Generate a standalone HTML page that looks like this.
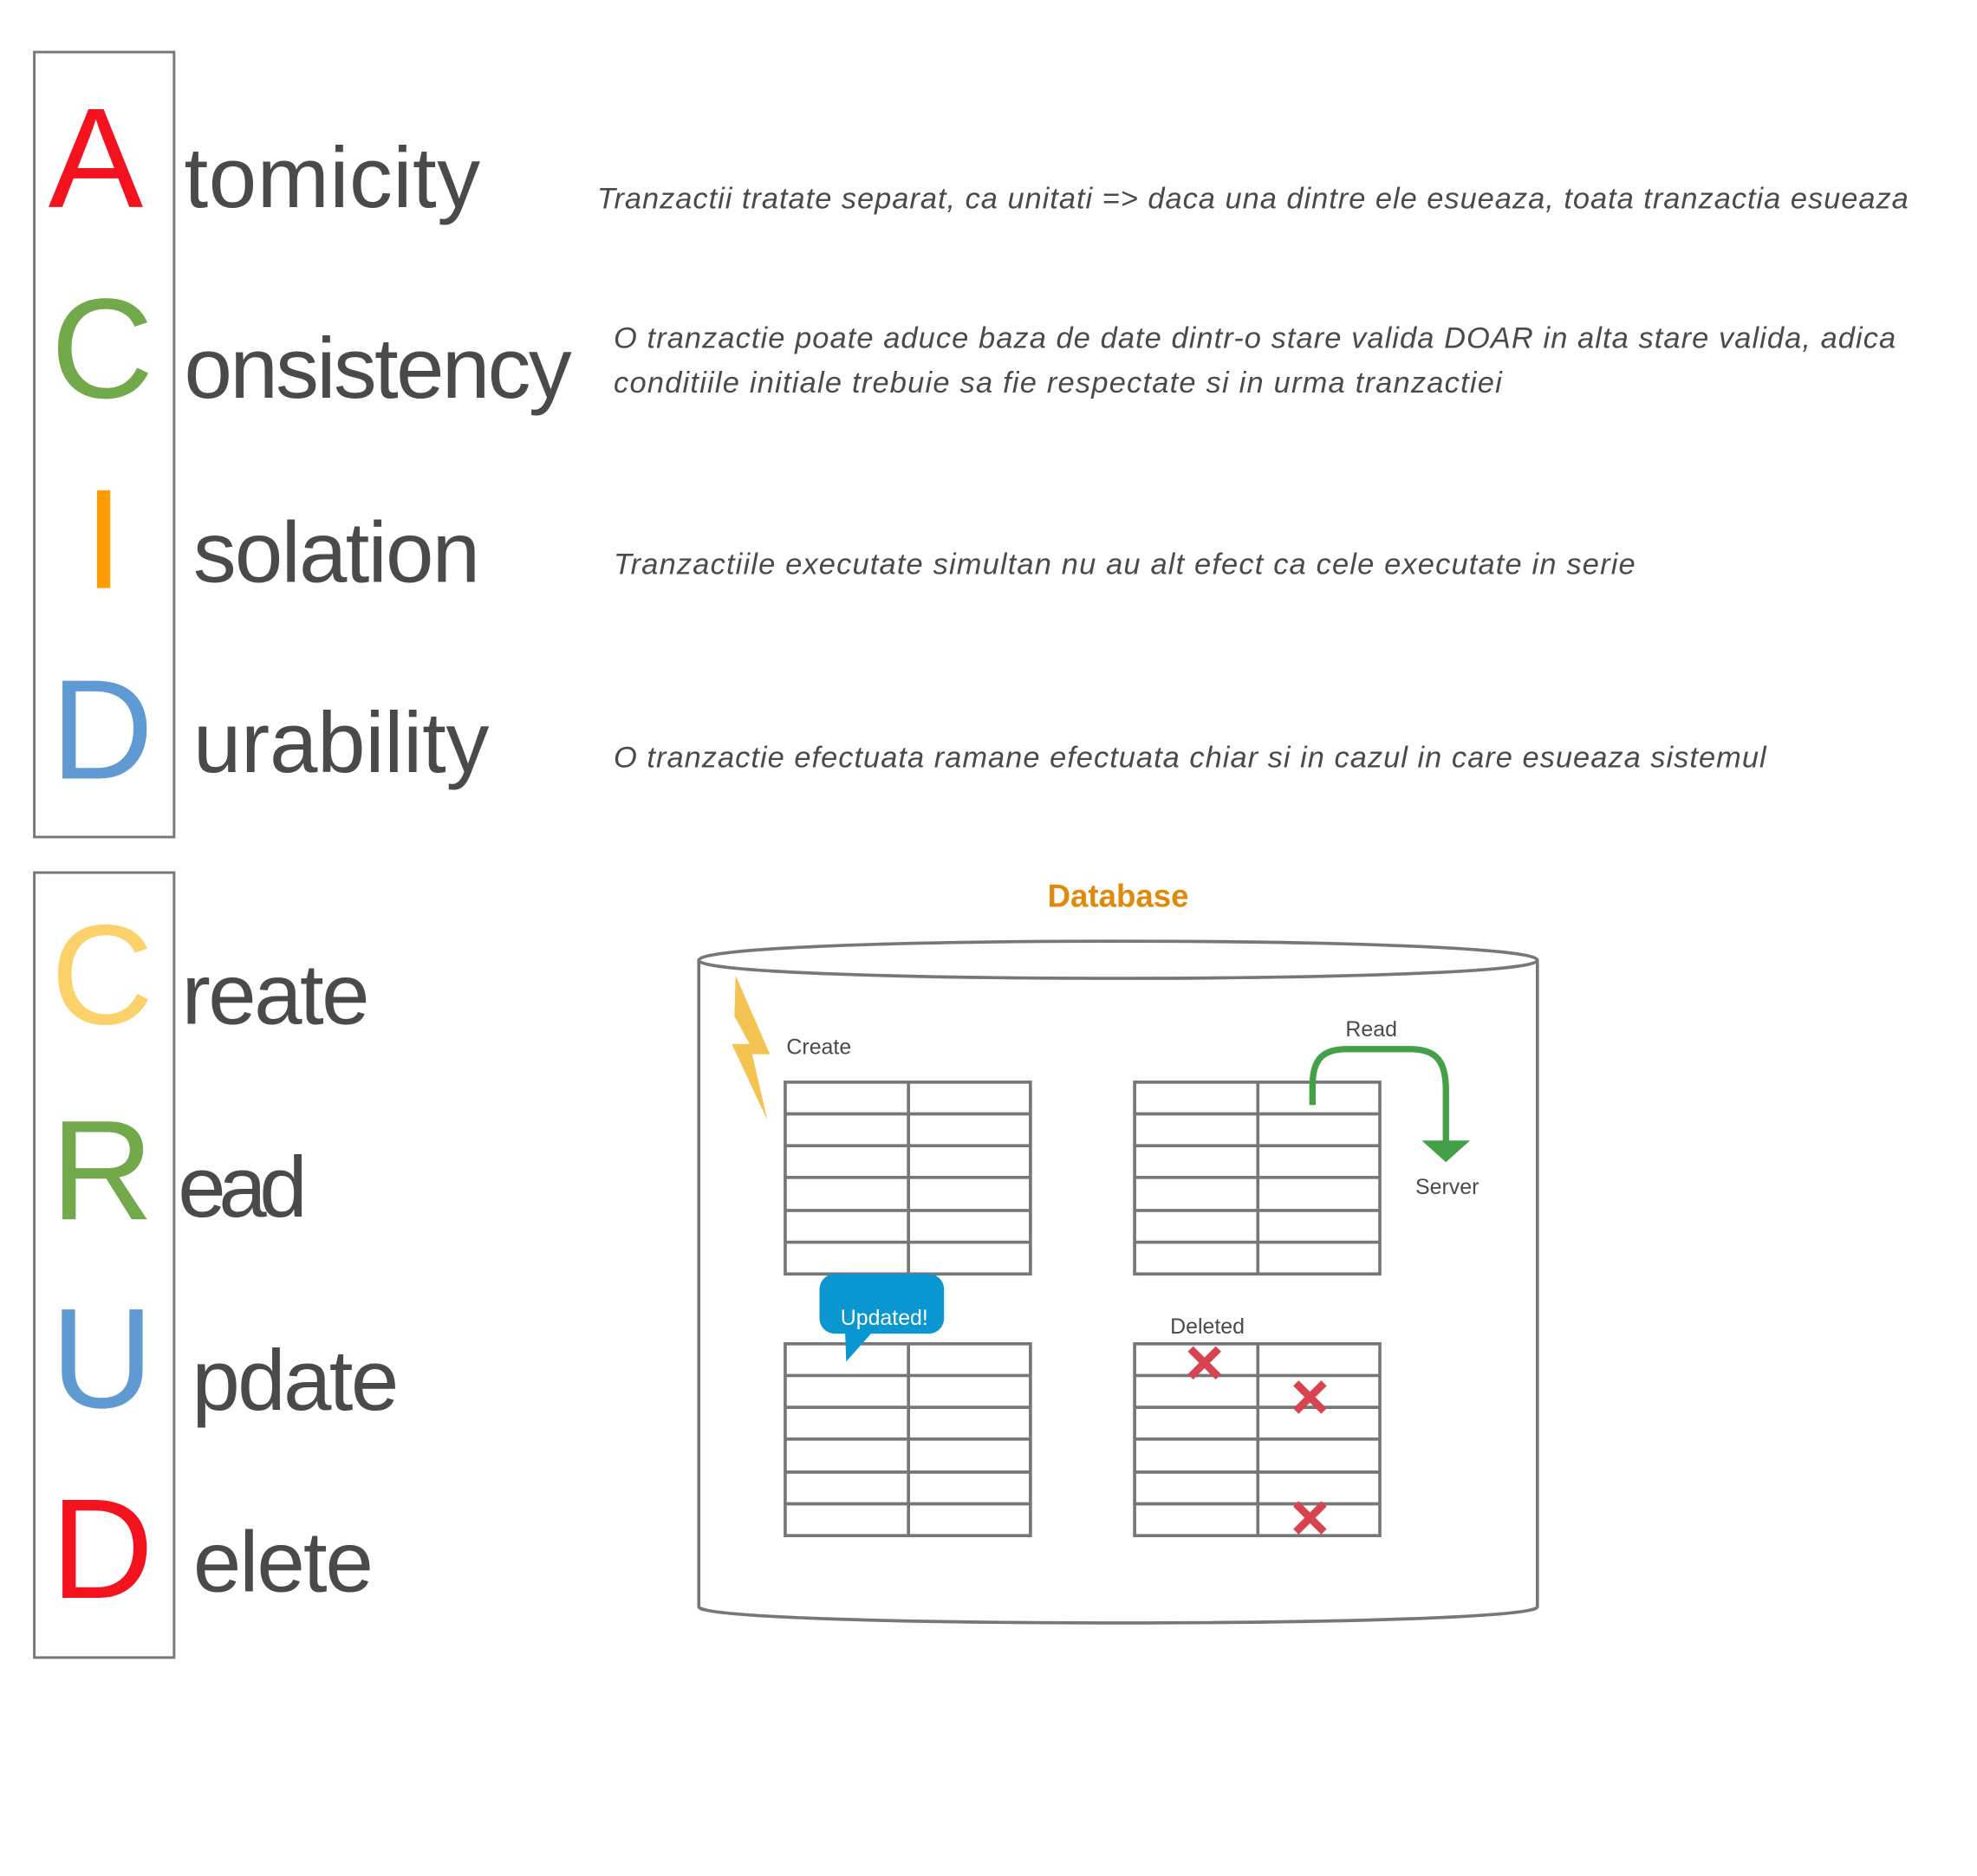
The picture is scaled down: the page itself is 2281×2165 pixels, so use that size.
<!DOCTYPE html>
<html><head><meta charset="utf-8"><style>
html,body{margin:0;padding:0;background:#fff}
svg{display:block}
text{font-family:"Liberation Sans",sans-serif}
</style></head><body>
<svg width="2281" height="2165" viewBox="0 0 1556 1477" preserveAspectRatio="none" xmlns="http://www.w3.org/2000/svg">
<rect x="27" y="41" width="110" height="618" fill="none" stroke="#777" stroke-width="2"/>
<rect x="27" y="687" width="110" height="618" fill="none" stroke="#777" stroke-width="2"/>
<g font-size="112">
<text x="38" y="163" fill="#f5121f">A</text>
<text x="40" y="313" fill="#72a94b">C</text>
<text x="66" y="463" fill="#ff9c00">I</text>
<text x="40" y="613" fill="#5f9ad2">D</text>
<text x="40" y="806" fill="#fcd16a">C</text>
<text x="40" y="960" fill="#72a94b">R</text>
<text x="40" y="1108" fill="#5f9ad2">U</text>
<text x="40" y="1258" fill="#f5121f">D</text>
</g>
<g font-size="68" fill="#4a4a4a">
<text x="145" y="163" textLength="233">tomicity</text>
<text x="145" y="313" textLength="305">onsistency</text>
<text x="152" y="458" textLength="226">solation</text>
<text x="152" y="608" textLength="233">urability</text>
<text x="143" y="806" textLength="148">reate</text>
<text x="140" y="958" textLength="102">ead</text>
<text x="151" y="1110" textLength="163">pdate</text>
<text x="152" y="1253" textLength="142">elete</text>
</g>
<g font-size="23.5" font-style="italic" fill="#4a4a4a">
<text x="470" y="164" textLength="1032">Tranzactii  tratate separat, ca unitati =&gt; daca una dintre ele esueaza, toata tranzactia esueaza</text>
<text x="483" y="274" textLength="1009">O tranzactie poate aduce baza de date dintr-o stare valida DOAR in alta stare valida, adica</text>
<text x="483" y="309" textLength="699">conditiile initiale trebuie sa fie respectate si in urma tranzactiei</text>
<text x="483" y="452" textLength="804">Tranzactiile  executate simultan nu au alt efect ca cele executate in serie</text>
<text x="483" y="604" textLength="907">O tranzactie efectuata ramane efectuata chiar si in cazul in care esueaza sistemul</text>
</g>
<text x="880" y="714" font-size="25" font-weight="bold" fill="#e08a0c" text-anchor="middle">Database</text>
<g fill="none" stroke="#777" stroke-width="2.5">
<path d="M550,756 C550,736 1210,736 1210,756 L1210,1265 C1210,1282 550,1282 550,1265 Z"/>
<path d="M550,756 C550,775 1210,775 1210,756"/>
</g>
<g fill="none" stroke="#777" stroke-width="2.5">
<g id="t1">
<rect x="618" y="852" width="193" height="151"/>
<path d="M715,852V1003 M618,877H811 M618,902H811 M618,927H811 M618,953H811 M618,978H811"/>
</g>
<use href="#t1" x="275" y="0"/>
<use href="#t1" x="0" y="206"/>
<use href="#t1" x="275" y="206"/>
</g>
<polygon points="579,768 606,830 592,830 604,882 576,822 590,822 578,800" fill="#f4c351"/>
<g font-size="17" fill="#4a4a4a">
<text x="619" y="830">Create</text>
<text x="1059" y="816">Read</text>
<text x="1114" y="940">Server</text>
<text x="921" y="1050">Deleted</text>
</g>
<path d="M1033,870 V855 C1033,835 1040,826 1060,826 H1110 C1130,826 1138,835 1138,858 V900" fill="none" stroke="#43a047" stroke-width="5"/>
<polygon points="1119,898 1157,898 1138,915" fill="#43a047"/>
<rect x="645" y="1003" width="98" height="47" rx="12" fill="#0a96d0"/>
<polygon points="665,1045 690,1045 666,1072" fill="#0a96d0"/>
<text x="696" y="1043" font-size="17" fill="#fff" text-anchor="middle">Updated!</text>
<g stroke="#d9434f" stroke-width="6">
<path d="M937,1062 L959,1084 M959,1062 L937,1084"/>
<path d="M1020,1089 L1042,1111 M1042,1089 L1020,1111"/>
<path d="M1020,1184 L1042,1206 M1042,1184 L1020,1206"/>
</g>
</svg>
</body></html>
